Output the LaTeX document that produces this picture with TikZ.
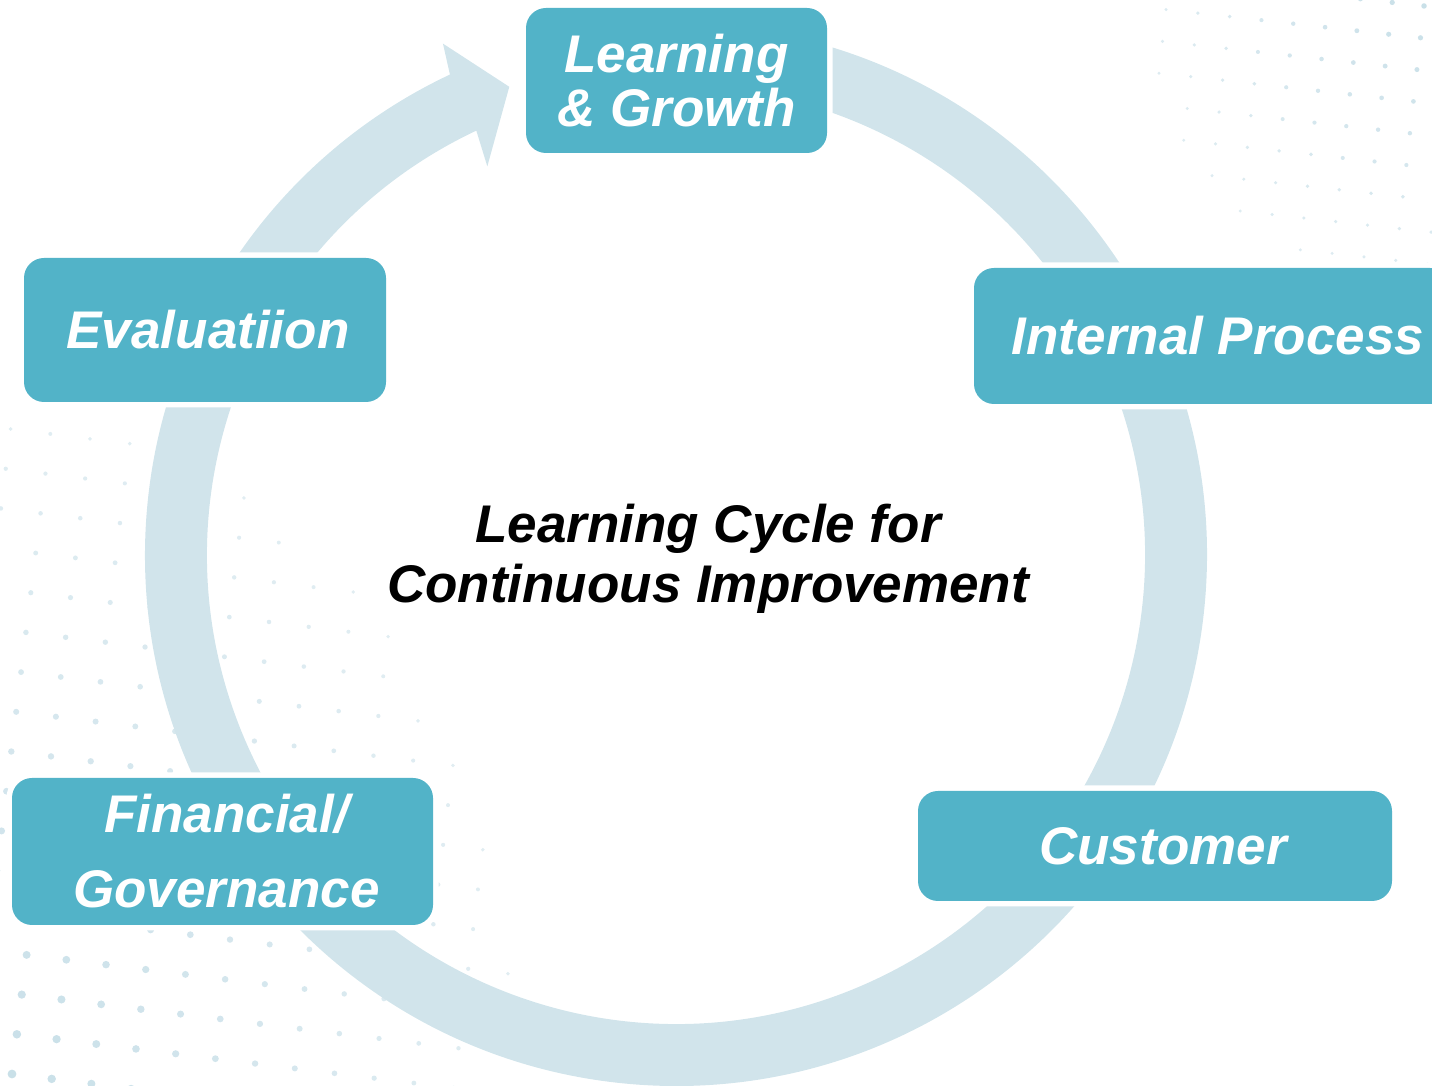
\documentclass[tikz,border=0pt]{standalone}
\usepackage{fontspec}
\setsansfont{Liberation Sans}
\definecolor{ringblue}{RGB}{209,228,235}
\definecolor{dotblue}{RGB}{200,223,232}
\definecolor{stageteal}{RGB}{82,179,200}
\tikzset{
  stage/.style={fill=stageteal, rounded corners=20pt, preaction={draw=white, line width=11pt},
    text=white, align=center, inner sep=0pt, font=\sffamily\bfseries\itshape\fontsize{53}{54}\selectfont},
  dot/.style={fill=dotblue!#1!white}
}
\begin{document}
\begin{tikzpicture}[x=1pt,y=1pt]
  \path[use as bounding box] (0,0) rectangle (1432,1086);
  \clip (0,0) rectangle (1432,1086);
  \foreach \i in {-2,...,15} \foreach \j in {-2,...,19} {
    \pgfmathsetmacro\dx{12+40*\i*0.9925+40*\j*0.1219}
    \pgfmathsetmacro\dy{12-40*\i*0.1219+40*\j*0.9925}
    \pgfmathsetmacro\dd{sqrt((\dx/520)*(\dx/520)+(\dy/680)*(\dy/680))}
    \pgfmathsetmacro\dr{\dd<1 ? 1.9+2.6*(1-\dd) : 0}
    \pgfmathtruncatemacro\op{55+45*(1-min(\dd,1))}
    \ifdim\dr pt>0pt \fill[dot=\op] (\dx,\dy) circle[radius=\dr];\fi
  }
  \foreach \i in {-10,...,1} \foreach \j in {-10,...,1} {
    \pgfmathsetmacro\dx{1432-8+32*\i*0.9939+32*\j*0.1103}
    \pgfmathsetmacro\dy{1086-6-32*\i*0.1103+32*\j*0.9939}
    \pgfmathsetmacro\dd{sqrt(((1432-\dx)/290)*((1432-\dx)/290)+((1086-\dy)/290)*((1086-\dy)/290))}
    \pgfmathsetmacro\dr{\dd<1 ? 1.6+1.2*(1-\dd) : 0}
    \pgfmathtruncatemacro\op{60+40*(1-min(\dd,1))}
    \ifdim\dr pt>0pt \fill[dot=\op] (\dx,\dy) circle[radius=\dr];\fi
  }
  \coordinate (hub) at (676,531);
  \fill[ringblue] ([shift={(hub)}]85:531) arc[start angle=85, end angle=-244.8, radius=531]
    -- ([shift={(hub)}]-245.5:562) -- ([shift={(hub)}]-250.4:497) -- ([shift={(hub)}]-244.1:432)
    -- ([shift={(hub)}]-244.8:469) arc[start angle=-244.8, end angle=85, radius=469] -- cycle;
  \node[stage, minimum width=301, minimum height=145] (lgrowth) at (676.5,1005.5) {Learning\\\& Growth};
  \node[stage, minimum width=362, minimum height=144] (evaluation) at (205,756) {\hspace*{6pt}Evaluatiion};
  \node[stage, minimum width=476, minimum height=136] (internal) at (1212,750) {\hspace*{12pt}Internal Process};
  \node[stage, minimum width=474, minimum height=110] (customer) at (1155,240) {\hspace*{16pt}Customer};
  \node[stage, minimum width=421, minimum height=147] (financial) at (222.5,234.5) {\hspace*{8pt}Financial/\\[21pt]\hspace*{8pt}Governance};
  \node[align=center, font=\sffamily\bfseries\itshape\fontsize{53}{60}\selectfont] (title) at (708,527)
    {Learning Cycle for\\Continuous Improvement};
\end{tikzpicture}
\end{document}
